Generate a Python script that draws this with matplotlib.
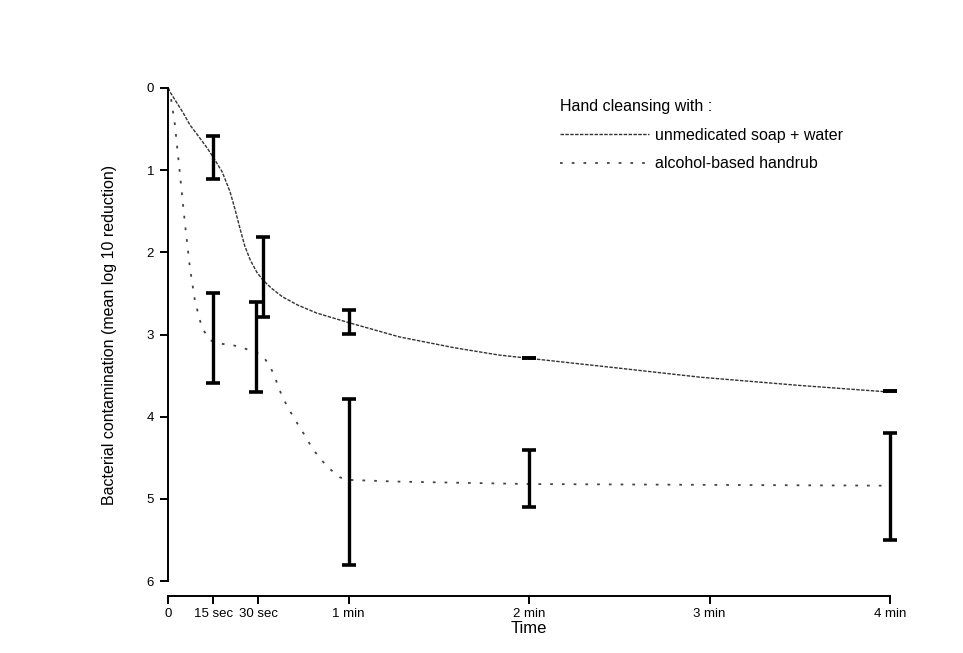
import matplotlib
matplotlib.use('Agg')
import matplotlib.pyplot as plt

plt.rcParams['font.family'] = ['Liberation Sans', 'DejaVu Sans']

# time in seconds, reduction in log10 units
soap_t = [0, 0.7, 5, 7.3, 10, 13, 15, 18, 20.6, 22.3, 24, 25.5, 27.3, 29.5, 31.6, 34.5, 38, 43, 49.5, 60.5, 77, 95, 110, 120, 150, 177, 210, 236, 240]
soap_y = [0, 0.05, 0.30, 0.45, 0.58, 0.73, 0.84, 1.02, 1.26, 1.48, 1.72, 1.92, 2.09, 2.24, 2.34, 2.44, 2.54, 2.64, 2.74, 2.86, 3.03, 3.16, 3.25, 3.29, 3.41, 3.52, 3.62, 3.69, 3.70]

alc_t = [0, 0.7, 2.3, 4, 5.7, 7.3, 9, 11.3, 14, 17, 21.6, 27.3, 29.5, 31.6, 33.3, 35, 38, 41.6, 45, 48.2, 52.9, 57.2, 60.5, 76, 120, 240]
alc_y = [0, 0.05, 0.45, 1.06, 1.67, 2.19, 2.60, 2.92, 3.07, 3.11, 3.13, 3.19, 3.22, 3.27, 3.35, 3.47, 3.76, 4.00, 4.20, 4.40, 4.61, 4.74, 4.77, 4.79, 4.82, 4.84]

# error bars (low / high ends)
soap_err_t = [15, 31.6, 60, 120, 240]
soap_lo = [0.58, 1.81, 2.70, 3.29, 3.69]
soap_hi = [1.11, 2.79, 2.99, 3.29, 3.69]

alc_err_t = [15, 29.3, 60, 120, 240]
alc_lo = [2.49, 2.61, 3.78, 4.40, 4.20]
alc_hi = [3.59, 3.70, 5.81, 5.10, 5.50]

tick_pos = [0, 15, 30, 60, 120, 180, 240]
tick_lab = ['0', '15 sec', '30 sec', '1 min', '2 min', '3 min', '4 min']

fig = plt.figure(figsize=(9.63, 6.53), dpi=100)
ax = fig.add_axes([168/963, 1 - 581/653, 722/963, 493/653])

ax.plot(soap_t, soap_y, color='#333333', lw=1.0, linestyle=(0, (2.5, 1)),
        label='unmedicated soap + water')
ax.plot(alc_t, alc_y, color='#444444', lw=1.3, linestyle=(0, (1.5, 5)),
        label='alcohol-based handrub')

def draw_err(t, lo, hi):
    mid = [(a + b) / 2 for a, b in zip(lo, hi)]
    err = [[m - a for m, a in zip(mid, lo)], [b - m for m, b in zip(mid, hi)]]
    eb = ax.errorbar(t, mid, yerr=err, fmt='none', ecolor='black', elinewidth=2.4,
                     capsize=4.8, capthick=2.6, clip_on=False)
    for c in eb.lines[1] + eb.lines[2]:
        c.set_clip_on(False)

draw_err(soap_err_t, soap_lo, soap_hi)
draw_err(alc_err_t, alc_lo, alc_hi)

ax.set_xlim(0, 240)
ax.set_ylim(6, 0)
ax.set_xticks(tick_pos)
ax.set_xticklabels(tick_lab)
ax.set_yticks(range(7))

for s in ['top', 'right']:
    ax.spines[s].set_visible(False)
ax.spines['bottom'].set_position(('outward', 11))
ax.spines['left'].set_linewidth(1.4)
ax.spines['bottom'].set_linewidth(1.4)
ax.tick_params(length=6, width=1.4, labelsize=9.5, pad=4)
ax.tick_params(axis='x', pad=2.5)

ax.set_xlabel('Time', fontsize=12, labelpad=1)
ax.set_ylabel('Bacterial contamination (mean log 10 reduction)', fontsize=11.5)
ax.yaxis.set_label_coords(-0.07, 0.5)

leg = ax.legend(loc='upper left', bbox_to_anchor=(560/963, 1 - 99/653),
                bbox_transform=fig.transFigure, frameon=False,
                title='Hand cleansing with :', title_fontsize=11.5, fontsize=11.5,
                handlelength=5.6, handletextpad=0.35, labelspacing=0.85,
                borderpad=0, borderaxespad=0, alignment='left')

fig.savefig('out.png', dpi=100)
